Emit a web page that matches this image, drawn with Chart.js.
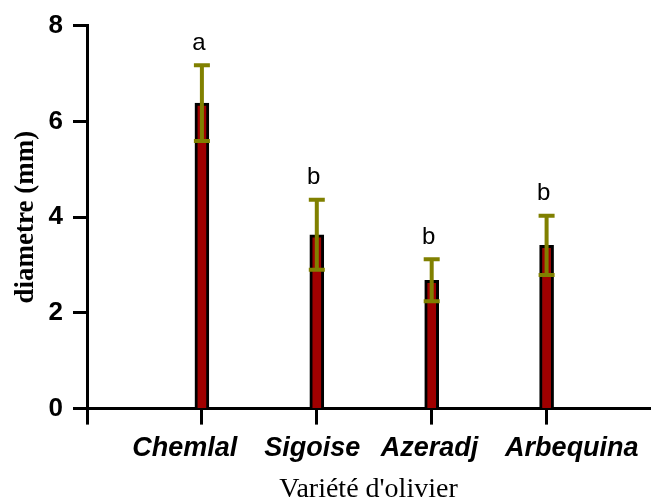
<!DOCTYPE html>
<html>
<head>
<meta charset="utf-8">
<script src="https://cdn.jsdelivr.net/npm/chart.js@4"></script>
<style>
  body { margin: 0; background: #fff; }
</style>
</head>
<body>
<canvas id="diamChart" width="656" height="504"></canvas>
<script>
// data
const varieties = ["Chemlal", "Sigoise", "Azeradj", "Arbequina"];
const meanDiam = [6.38, 3.63, 2.68, 3.41];
const sdDiam = [0.79, 0.73, 0.44, 0.62];
const groups = ["a", "b", "b", "b"];
const yTicks = [0, 2, 4, 6, 8];

// small horizontal nudges of the category labels (as in the original)
const labelNudge = [-0.15, -0.04, -0.02, 0.22];

const barRed = "#a00000";
const olive = "#808000";

// error bars + significance letters
const errorBars = {
  id: "errorBars",
  afterDatasetsDraw(chart) {
    const { ctx, scales } = chart;
    const x = scales.x, y = scales.y;
    ctx.save();
    meanDiam.forEach((m, i) => {
      const px = x.getPixelForValue(i + 1);
      const top = y.getPixelForValue(m + sdDiam[i]);
      const bot = y.getPixelForValue(m - sdDiam[i]);
      ctx.strokeStyle = olive;
      ctx.lineWidth = 4;
      ctx.beginPath();
      ctx.moveTo(px, top);
      ctx.lineTo(px, bot);
      ctx.moveTo(px - 8, top);
      ctx.lineTo(px + 8, top);
      ctx.moveTo(px - 8, bot);
      ctx.lineTo(px + 8, bot);
      ctx.stroke();

      ctx.fillStyle = "#000";
      ctx.font = "24px 'Liberation Sans', Arial, sans-serif";
      ctx.textAlign = "center";
      ctx.textBaseline = "middle";
      ctx.fillText(groups[i], px - 3, top - 22);
    });
    ctx.restore();
  },
};

const ctx = document.getElementById("diamChart").getContext("2d");
new Chart(ctx, {
  type: "bar",
  data: {
    datasets: [
      {
        data: meanDiam.map((v, i) => ({ x: i + 1, y: v })),
        backgroundColor: barRed,
        borderColor: "#000",
        borderWidth: 3,
        barThickness: 14,
      },
    ],
  },
  options: {
    responsive: false,
    animation: false,
    layout: { padding: { top: 23, right: 6, bottom: 0, left: 0 } },
    plugins: {
      legend: { display: false },
      tooltip: { enabled: false },
    },
    scales: {
      x: {
        type: "linear",
        offset: false,
        min: 0,
        max: 4.9,
        afterBuildTicks: (s) => {
          s.ticks = [0, 1, 2, 3, 4].map((v) => ({ value: v }));
        },
        border: { color: "#000", width: 3 },
        grid: {
          offset: false,
          drawOnChartArea: false,
          tickLength: 16,
          tickWidth: 3,
          tickColor: "#000",
        },
        ticks: { display: false },
      },
      x2: {
        type: "linear",
        position: "bottom",
        offset: false,
        min: 0,
        max: 4.9,
        afterBuildTicks: (s) => {
          s.ticks = labelNudge.map((d, i) => ({ value: i + 1 + d }));
        },
        border: { display: false },
        grid: { display: false, offset: false },
        ticks: {
          autoSkip: false,
          maxRotation: 0,
          padding: 0,
          color: "#000",
          font: {
            family: "'Liberation Sans', Arial, sans-serif",
            size: 27,
            weight: "bold",
            style: "italic",
          },
          callback: (v, i) => varieties[i],
        },
        title: {
          display: true,
          text: "Variété d'olivier",
          color: "#000",
          font: { family: "'Liberation Serif', 'Times New Roman', serif", size: 28, lineHeight: 1 },
          padding: { top: 11, bottom: 0 },
        },
      },
      y: {
        min: 0,
        max: 8,
        afterBuildTicks: (s) => {
          s.ticks = yTicks.map((v) => ({ value: v }));
        },
        border: { color: "#000", width: 3 },
        grid: {
          drawOnChartArea: false,
          tickLength: 14,
          tickWidth: 3,
          tickColor: "#000",
        },
        ticks: {
          padding: 10,
          color: "#000",
          font: { family: "'Liberation Sans', Arial, sans-serif", size: 26, weight: "bold" },
        },
        title: {
          display: true,
          text: "diametre (mm)",
          color: "#000",
          font: { family: "'Liberation Serif', 'Times New Roman', serif", size: 27, weight: "bold" },
          padding: { top: 10, bottom: 0 },
        },
        afterFit: (s) => {
          s.width = 87;
        },
      },
    },
  },
  plugins: [errorBars],
});
</script>
</body>
</html>
